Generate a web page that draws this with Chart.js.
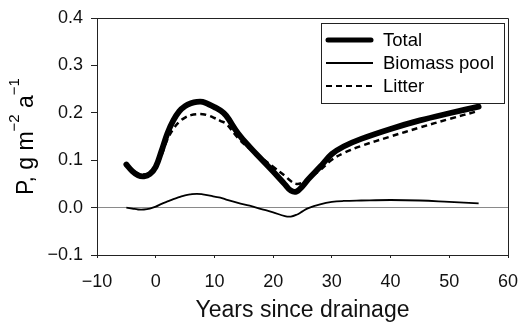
<!DOCTYPE html>
<html>
<head>
<meta charset="utf-8">
<script src="https://cdn.jsdelivr.net/npm/chart.js"></script>
<style>
  body { margin: 0; background: #fff; }
  #wrap { width: 519px; height: 325px; }
</style>
</head>
<body>
<div id="wrap"><canvas id="myChart"></canvas></div>
<script>
const years = [-5, -4, -3, -2, -1, 0, 1, 2, 3, 4, 5, 6, 7, 8, 9, 10, 11, 12, 14, 16,
  18, 20, 22, 23, 24, 25, 26, 28, 30, 32, 35, 40, 45, 50, 55];

const total = [0.091, 0.077, 0.068, 0.066, 0.071, 0.086, 0.120, 0.157, 0.184, 0.203,
  0.214, 0.220, 0.223, 0.223, 0.218, 0.212, 0.205, 0.194, 0.157, 0.128,
  0.102, 0.076, 0.049, 0.036, 0.034, 0.045, 0.060, 0.086, 0.113, 0.129,
  0.145, 0.166, 0.184, 0.199, 0.213];

const biomass = [0.000, -0.002, -0.004, -0.004, -0.002, 0.002, 0.008, 0.013, 0.018, 0.022,
  0.026, 0.028, 0.029, 0.028, 0.026, 0.023, 0.021, 0.017, 0.010, 0.004,
  -0.003, -0.010, -0.018, -0.019, -0.015, -0.008, -0.001, 0.007, 0.012, 0.014,
  0.015, 0.016, 0.015, 0.012, 0.009];

const litter = [0.091, 0.079, 0.072, 0.070, 0.073, 0.084, 0.111, 0.144, 0.166, 0.181,
  0.190, 0.195, 0.197, 0.197, 0.194, 0.189, 0.183, 0.177, 0.147, 0.124,
  0.105, 0.086, 0.067, 0.056, 0.050, 0.053, 0.061, 0.079, 0.101, 0.115,
  0.130, 0.150, 0.169, 0.187, 0.204];

const seriesNames = ['Total', 'Biomass pool', 'Litter'];
const xTicks = [-10, 0, 10, 20, 30, 40, 50, 60];
const yTicks = [-0.1, 0.0, 0.1, 0.2, 0.3, 0.4];

const FONT = 'Liberation Sans, Arial, sans-serif';
const AXIS = '#222';

function pts(ys) {
  return years.map((x, i) => ({ x: x, y: ys[i] }));
}

function minus(s) {
  return s.replace('-', '\u2212');
}

// top + right side of the box, the legend frame and the y title
const extras = {
  id: 'extras',
  beforeDatasetsDraw(chart) {
    const { ctx, chartArea: a } = chart;
    ctx.save();
    ctx.strokeStyle = AXIS;
    ctx.lineWidth = 1;
    ctx.beginPath();
    ctx.moveTo(a.left, Math.round(a.top) + 0.5);
    ctx.lineTo(Math.round(a.right) + 0.5, Math.round(a.top) + 0.5);
    ctx.lineTo(Math.round(a.right) + 0.5, a.bottom);
    ctx.stroke();
    ctx.restore();
  },
  afterDraw(chart) {
    const ctx = chart.ctx;
    ctx.save();

    // legend
    ctx.strokeStyle = AXIS;
    ctx.lineWidth = 1;
    ctx.strokeRect(321.5, 23.5, 183, 80);
    const rows = [40, 63, 86];
    chart.data.datasets.forEach((ds, i) => {
      ctx.save();
      ctx.strokeStyle = '#000';
      ctx.lineWidth = ds.legendWidth;
      ctx.lineCap = ds.borderCapStyle || 'butt';
      ctx.setLineDash(ds.borderDash || []);
      ctx.beginPath();
      const pad = ds.borderCapStyle === 'round' ? 2 : 0;
      ctx.moveTo(326 + pad, rows[i]);
      ctx.lineTo(373 - pad, rows[i]);
      ctx.stroke();
      ctx.restore();
      ctx.fillStyle = '#000';
      ctx.font = '18.5px ' + FONT;
      ctx.textBaseline = 'middle';
      ctx.textAlign = 'left';
      ctx.fillText(ds.label, 383, rows[i] + 1);
    });

    // y axis title with superscripts
    const a = chart.chartArea;
    const parts = [
      ['P, g m', 23, 0], ['\u22122', 15, 14], [' a', 23, 0], ['\u22121', 15, 14]
    ];
    let w = 0;
    parts.forEach(p => { ctx.font = p[1] + 'px ' + FONT; w += ctx.measureText(p[0]).width; });
    ctx.translate(33, (a.top + a.bottom) / 2);
    ctx.rotate(-Math.PI / 2);
    ctx.textBaseline = 'alphabetic';
    ctx.textAlign = 'left';
    let x = -w / 2;
    parts.forEach(p => {
      ctx.font = p[1] + 'px ' + FONT;
      ctx.fillText(p[0], x, -p[2]);
      x += ctx.measureText(p[0]).width;
    });
    ctx.restore();
  }
};

const chartData = {
  datasets: [{
    label: seriesNames[0],
    data: pts(total),
    borderColor: '#000',
    borderWidth: 5.8,
    legendWidth: 5,
    borderCapStyle: 'round',
    order: 3
  }, {
    label: seriesNames[1],
    data: pts(biomass),
    borderColor: '#000',
    borderWidth: 1.8,
    legendWidth: 2,
    order: 2
  }, {
    label: seriesNames[2],
    data: pts(litter),
    borderColor: '#000',
    borderWidth: 2.5,
    legendWidth: 2,
    borderDash: [6, 4],
    order: 1
  }]
};

const config = {
  type: 'line',
  data: chartData,
  options: {
    responsive: true,
    maintainAspectRatio: false,
    animation: false,
    layout: { padding: { left: 0, right: 11, top: 18, bottom: 0 } },
    elements: {
      point: { radius: 0 },
      line: { tension: 0.4, fill: false }
    },
    plugins: {
      legend: { display: false },
      tooltip: { enabled: false }
    },
    scales: {
      x: {
        type: 'linear',
        min: -10,
        max: 60,
        afterFit: (s) => { s.height = 70; s.paddingLeft = 0; s.paddingRight = 0; },
        afterBuildTicks: (s) => { s.ticks = xTicks.map(v => ({ value: v })); },
        border: { color: AXIS, width: 1 },
        grid: { drawOnChartArea: false, tickLength: 3, tickColor: AXIS },
        ticks: {
          color: '#111',
          padding: 13,
          font: { family: FONT, size: 18 },
          callback: (v) => minus(String(v))
        },
        title: {
          display: true,
          text: 'Years since drainage',
          color: '#111',
          padding: { top: 0, bottom: 1 },
          font: { family: FONT, size: 23 }
        }
      },
      y: {
        min: -0.1,
        max: 0.4,
        afterFit: (s) => { s.width = 97; s.paddingTop = 0; s.paddingBottom = 0; },
        afterBuildTicks: (s) => { s.ticks = yTicks.map(v => ({ value: v })); },
        border: { color: AXIS, width: 1 },
        grid: {
          tickLength: 6,
          tickColor: AXIS,
          color: (c) => (c.tick && Math.abs(c.tick.value) < 1e-9 ? '#8a8a8a' : 'rgba(0,0,0,0)')
        },
        ticks: {
          color: '#111',
          padding: 8,
          font: { family: FONT, size: 18 },
          callback: (v) => minus(v.toFixed(1))
        }
      }
    }
  },
  plugins: [extras]
};

const myChart = new Chart(document.getElementById('myChart'), config);
</script>
</body>
</html>
